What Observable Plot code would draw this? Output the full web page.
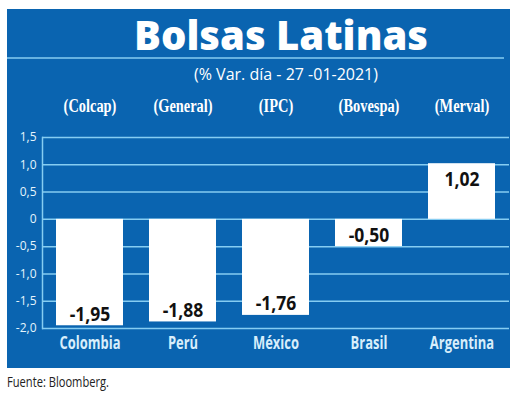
<!DOCTYPE html>
<html>
<head>
<meta charset="utf-8">
<script src="https://cdn.jsdelivr.net/npm/d3@7"></script>
<script src="https://cdn.jsdelivr.net/npm/@observablehq/plot@0.6"></script>
<style>
  html, body { margin: 0; padding: 0; background: #ffffff; }
  body { width: 520px; height: 401px; position: relative; overflow: hidden; }
  #panel { position: absolute; left: 7px; top: 9px; width: 503px; height: 359px; background: #0a64b0; }
  #header { position: absolute; left: 0; top: -9px; }
  #chart { position: absolute; left: 0; top: 79px; }
  #foot { position: absolute; left: 7px; top: 371px; font-family: 'Open Sans', sans-serif; font-size: 15px; color: #222; transform-origin: 0 0; white-space: nowrap; }
</style>
</head>
<body>
<div id="panel">
  <div id="header"></div>
  <div id="chart"></div>
</div>
<span id="foot">Fuente: Bloomberg.</span>
<script>
const title = "Bolsas Latinas";
const subtitle = "(% Var. día - 27 -01-2021)";
const countries = ["Colombia", "Perú", "México", "Brasil", "Argentina"];
const indices = ["(Colcap)", "(General)", "(IPC)", "(Bovespa)", "(Merval)"];
const values = [-1.95, -1.88, -1.76, -0.50, 1.02];
const yTicks = [1.5, 1.0, 0.5, 0, -0.5, -1.0, -1.5, -2.0];

const data = countries.map((c, i) => ({country: c, index: indices[i], value: values[i]}));
const tickFmt = d => d === 0 ? "0" : d.toFixed(1).replace(".", ",");
const valFmt = d => d.value.toFixed(2).replace(".", ",");
const indexOf = new Map(countries.map((c, i) => [c, indices[i]]));

// header
const hdr = d3.select("#header").append("svg").attr("width", 503).attr("height", 88);
hdr.append("text").attr("x", 274).attr("y", 50).attr("text-anchor", "middle")
  .attr("font-family", "'Open Sans', sans-serif").attr("font-weight", 800).attr("font-size", 40)
  .attr("fill", "#ffffff").text(title);
hdr.append("line").attr("x1", 0).attr("x2", 497).attr("y1", 58).attr("y2", 58)
  .attr("stroke", "#86cdf2").attr("stroke-width", 1.5);
hdr.append("text").attr("x", 279).attr("y", 80).attr("text-anchor", "middle")
  .attr("font-family", "'Open Sans', sans-serif").attr("font-size", 16)
  .attr("fill", "#ffffff").text(subtitle);

const grid = "#86cdf2";
const chart = Plot.plot({
  width: 503,
  height: 280,
  marginLeft: 35,
  marginRight: 1,
  marginTop: 49,
  marginBottom: 40,
  style: {background: "transparent", color: "#e6f4fc", overflow: "visible"},
  x: {domain: countries, paddingInner: 0.28, paddingOuter: 0.14, axis: null},
  y: {domain: [-2, 1.5], axis: null},
  marks: [
    Plot.ruleY(yTicks, {stroke: grid, strokeWidth: 1.5}),
    Plot.frame({anchor: "left", stroke: grid, strokeWidth: 1.5}),
    Plot.barY(data, {x: "country", y: "value", fill: "#ffffff"}),
    Plot.text(data.filter(d => d.value < 0), {x: "country", y: "value", text: valFmt, lineAnchor: "bottom", dy: -5,
      fontFamily: "'Open Sans', sans-serif", fontWeight: 700, fontSize: 19, fill: "#111"}),
    Plot.text(data.filter(d => d.value >= 0), {x: "country", y: "value", text: valFmt, lineAnchor: "top", dy: 9,
      fontFamily: "'Open Sans', sans-serif", fontWeight: 700, fontSize: 19, fill: "#111"}),
    Plot.axisY(yTicks, {label: null, tickSize: 0, tickPadding: 6, tickFormat: tickFmt, fontSize: 12,
      fontFamily: "'Open Sans', sans-serif", fill: "#e6f4fc"}),
    Plot.axisX({anchor: "bottom", label: null, tickSize: 0, tickPadding: 8, fontSize: 18, fontWeight: 700,
      fontFamily: "'Open Sans', sans-serif", fill: "#d8eefb"}),
    Plot.axisX({anchor: "top", label: null, tickSize: 0, tickPadding: 26, fontSize: 18, fontWeight: 700, tickFormat: d => indexOf.get(d),
      fontFamily: "'Liberation Serif', serif", fill: "#ffffff"})
  ]
});
document.getElementById("chart").appendChild(chart);

// condense text (narrow typeface look)
function condense(nodes, f) {
  nodes.forEach(t => {
    const w = t.getComputedTextLength();
    if (w > 0) {
      t.setAttribute("textLength", w * f);
      t.setAttribute("lengthAdjust", "spacingAndGlyphs");
    }
  });
}
const allText = Array.from(chart.querySelectorAll("text"));
const bottomTexts = allText.filter(t => countries.includes(t.textContent));
const topTexts = allText.filter(t => indices.includes(t.textContent));
const valueTexts = allText.filter(t => /^-?\d,\d\d$/.test(t.textContent));
condense(bottomTexts, 0.72);
condense(topTexts, 0.8);
condense(valueTexts, 0.92);

const foot = document.getElementById("foot");
const fw = foot.getBoundingClientRect().width;
foot.style.transform = `scaleX(${102 / fw})`;
</script>
</body>
</html>
